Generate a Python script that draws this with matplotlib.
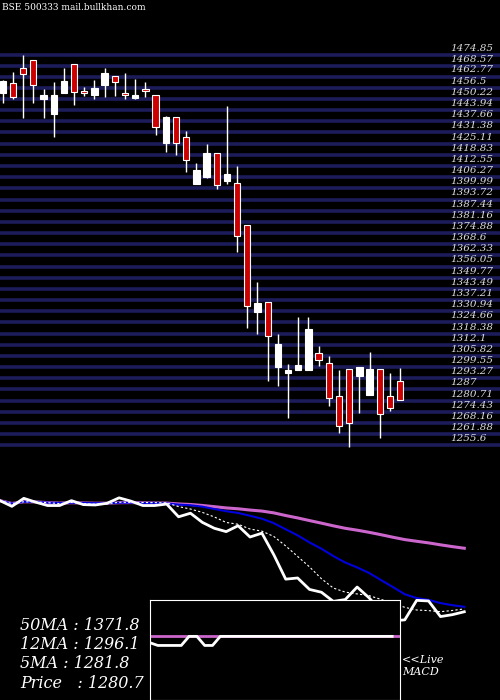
import numpy as np
import pandas as pd
import matplotlib.pyplot as plt

# daily candles, BSE 500333
opens = [1448.7, 1454.4, 1462.8, 1467.3, 1445.5, 1437.3, 1448.7, 1465.0, 1450.0, 1447.8,
         1453.6, 1458.3, 1448.9, 1446.3, 1451.2, 1447.6, 1421.0, 1435.2, 1424.0, 1398.0,
         1401.9, 1415.0, 1399.7, 1398.2, 1374.6, 1326.0, 1331.3, 1295.1, 1291.4, 1293.1,
         1293.5, 1302.6, 1297.0, 1278.5, 1293.6, 1289.7, 1279.0, 1293.6, 1278.5, 1286.9]
closes = [1455.7, 1446.5, 1459.4, 1453.2, 1447.8, 1447.8, 1455.7, 1449.3, 1448.7, 1451.5,
          1460.2, 1454.9, 1447.8, 1447.8, 1450.2, 1429.6, 1435.4, 1420.6, 1411.1, 1405.7,
          1415.2, 1397.0, 1403.2, 1368.4, 1329.0, 1330.9, 1312.4, 1307.9, 1293.1, 1296.1,
          1316.3, 1298.9, 1277.4, 1261.8, 1263.3, 1294.8, 1293.8, 1268.6, 1271.7, 1276.4]
highs = [1456.2, 1460.5, 1470.3, 1467.3, 1451.0, 1454.9, 1462.8, 1465.0, 1452.5, 1456.2,
         1462.8, 1458.3, 1460.2, 1456.6, 1454.9, 1447.6, 1436.0, 1435.2, 1427.6, 1409.4,
         1420.1, 1415.0, 1441.6, 1407.9, 1374.6, 1342.7, 1331.3, 1313.5, 1296.6, 1323.1,
         1323.1, 1306.8, 1301.1, 1293.3, 1293.6, 1294.8, 1303.4, 1293.6, 1291.6, 1294.4]
lows = [1443.1, 1445.4, 1435.1, 1443.1, 1435.1, 1424.4, 1448.7, 1442.4, 1447.4, 1445.5,
        1446.5, 1447.4, 1445.5, 1445.5, 1446.5, 1425.5, 1416.0, 1414.1, 1404.7, 1398.0,
        1401.0, 1395.2, 1398.0, 1359.4, 1317.1, 1313.3, 1287.3, 1284.5, 1266.1, 1293.1,
        1293.5, 1295.7, 1273.2, 1258.1, 1250.2, 1269.3, 1279.0, 1255.3, 1270.4, 1276.4]
levels = [1474.85, 1468.57, 1462.77, 1456.5, 1450.22, 1443.94, 1437.66, 1431.38, 1425.11,
          1418.83, 1412.55, 1406.27, 1399.99, 1393.72, 1387.44, 1381.16, 1374.88, 1368.6,
          1362.33, 1356.05, 1349.77, 1343.49, 1337.21, 1330.94, 1324.66, 1318.38, 1312.1,
          1305.82, 1299.55, 1293.27, 1287, 1280.71, 1274.43, 1268.16, 1261.88, 1255.6]
macd_line = [0.3, 0.0, 0.0, 0.0, 0.0, 1.0, 1.0, 0.0, 0.0, 1.0, 1.0, 1.0, 1.0, 1.0, 1.0, 1.0,
             1.0, 1.0, 1.0, 1.0, 1.0, 1.0, 1.0, 1.0, 1.0, 1.0, 1.0, 1.0, 1.0, 1.0, 1.0, 1.0, 1.0]

fig = plt.figure(figsize=(5, 7), dpi=100, facecolor='black')
fig.text(0.004, 0.995, 'BSE 500333 mail.bullkhan.com', color='white', fontsize=6.5,
         family='DejaVu Serif', va='top')

# candle panel
ax = fig.add_axes([0, 0.35, 1, 0.593])
ax.set_facecolor('black')
for lv in levels:
    ax.axhline(lv - 4.7, color='#1c1c5a', lw=2.6, zorder=1)
for k, lv in enumerate(levels):
    ax.text(43.9, lv - 3.5, str(lv), color='#dddddd', fontsize=7.5, style='italic',
            family='DejaVu Serif', va='bottom', ha='left', zorder=3)
for i in range(len(opens)):
    up = closes[i] >= opens[i]
    c = 'white' if up else '#cc0000'
    ax.vlines(i, lows[i], highs[i], color='white', lw=1, zorder=2)
    lo, hi = min(opens[i], closes[i]), max(opens[i], closes[i])
    ax.bar(i, max(hi - lo, 0.8), 0.62, lo, color=c, edgecolor='white', lw=0.8, zorder=3)
ax.set_xlim(-0.27, 48.8)
ax.set_ylim(1245.5, 1478.7)
ax.axis('off')

# moving averages panel
s = pd.Series(closes)
ma5 = s.rolling(5, min_periods=1).mean()
ma12 = s.rolling(12, min_periods=1).mean()
ma50 = s.rolling(50, min_periods=1).mean()
bx = fig.add_axes([0, 0, 1, 220 / 700])
bx.set_facecolor('black')
x = np.arange(len(closes))
bx.plot(x, ma50, color='#cc66cc', lw=2.2)
bx.plot(x, ma12, color='#0000dd', lw=1.5)
bx.plot(x, ma5, color='white', lw=0.8, ls=(0, (2, 2)))
bx.plot(x, s, color='white', lw=2)
bx.set_xlim(0, 42)
bx.set_ylim(1134, 1489)
bx.axis('off')

legend = ['50MA : 1371.8', '12MA : 1296.1', '5MA : 1281.8', 'Price   : 1280.7']
for k, t in enumerate(legend):
    fig.text(0.04, 1 - (625 + 19.5 * k) / 700, t, color='white', fontsize=11.5,
             style='italic', family='DejaVu Serif', va='center')
fig.text(0.804, 1 - 666 / 700, '<<Live\nMACD', color='white', fontsize=8,
         style='italic', family='DejaVu Serif', va='center', linespacing=1.3)

mx = fig.add_axes([150 / 500, 0, 250 / 500, 100 / 700])
mx.set_facecolor('black')
for sp in mx.spines.values():
    sp.set_color('white')
mx.set_xticks([])
mx.set_yticks([])
mm = np.arange(len(macd_line))
mx.plot(mm, [1.0] * len(mm), color='#cc66cc', lw=2)
mx.plot(mm[:-1], macd_line[:-1], color='white', lw=2)
mx.set_xlim(0, len(mm) - 1)
mx.set_ylim(-6, 5)

fig.savefig('out.png', dpi=100, facecolor='black')
